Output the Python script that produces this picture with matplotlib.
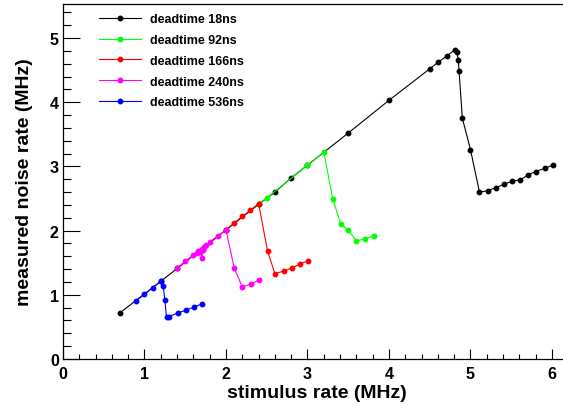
import matplotlib
matplotlib.use("Agg")
import matplotlib.pyplot as plt
from matplotlib.ticker import MultipleLocator

plt.rcParams["font.family"] = ["Liberation Sans", "DejaVu Sans"]
plt.rcParams["font.weight"] = "bold"

# deadtime 18ns
x18 = [0.7, 1.2, 1.4, 2.0, 2.4, 2.6, 2.8, 3.0, 3.5, 4.0, 4.5, 4.6, 4.71, 4.81, 4.83,
       4.85, 4.86, 4.90, 5.0, 5.11, 5.21, 5.31, 5.41, 5.51, 5.61, 5.71, 5.80, 5.91, 6.01]
y18 = [0.72, 1.21, 1.41, 2.01, 2.41, 2.60, 2.82, 3.02, 3.52, 4.03, 4.52, 4.62, 4.72, 4.82, 4.79,
       4.66, 4.48, 3.75, 3.26, 2.60, 2.62, 2.67, 2.72, 2.77, 2.79, 2.87, 2.92, 2.97, 3.02]

# deadtime 92ns
x92 = [2.4, 2.5, 3.0, 3.2, 3.31, 3.41, 3.50, 3.60, 3.71, 3.81]
y92 = [2.42, 2.51, 3.02, 3.22, 2.49, 2.10, 2.01, 1.84, 1.87, 1.92]

# deadtime 166ns
x166 = [2.0, 2.1, 2.2, 2.3, 2.4, 2.51, 2.60, 2.71, 2.81, 2.91, 3.01]
y166 = [2.01, 2.12, 2.22, 2.32, 2.42, 1.68, 1.33, 1.37, 1.42, 1.48, 1.53]

# deadtime 240ns
x240 = [1.4, 1.5, 1.6, 1.64, 1.66, 1.68, 1.70, 1.70, 1.72, 1.73, 1.75, 1.8, 1.9, 2.0,
        2.1, 2.2, 2.31, 2.4]
y240 = [1.42, 1.52, 1.62, 1.65, 1.68, 1.66, 1.72, 1.58, 1.70, 1.75, 1.77, 1.82, 1.92, 2.01,
        1.42, 1.12, 1.17, 1.23]

# deadtime 536ns
x536 = [0.9, 1.0, 1.1, 1.2, 1.23, 1.25, 1.27, 1.30, 1.41, 1.51, 1.61, 1.71]
y536 = [0.91, 1.01, 1.11, 1.21, 1.13, 0.92, 0.65, 0.66, 0.72, 0.76, 0.81, 0.86]

series = [
    (x18, y18, "black", "deadtime 18ns"),
    (x92, y92, "#00ff00", "deadtime 92ns"),
    (x166, y166, "red", "deadtime 166ns"),
    (x240, y240, "magenta", "deadtime 240ns"),
    (x536, y536, "blue", "deadtime 536ns"),
]

fig = plt.figure(figsize=(5.63, 4.06), dpi=100)
ax = fig.add_axes([63 / 563, 46 / 406, 500 / 563, 355 / 406])

for xs, ys, c, lab in series:
    ax.plot(xs, ys, "-o", color=c, lw=0.8, ms=3.2, mec=c, label=lab)

ax.set_xlim(0, 6.135)
ax.set_ylim(0, 5.53)
ax.xaxis.set_major_locator(MultipleLocator(1))
ax.xaxis.set_minor_locator(MultipleLocator(0.2))
ax.yaxis.set_major_locator(MultipleLocator(1))
ax.yaxis.set_minor_locator(MultipleLocator(0.2))

ax.tick_params(axis="x", which="major", direction="in", length=7, width=0.8, pad=5, labelsize=11.5)
ax.tick_params(axis="x", which="minor", direction="in", length=3.5, width=0.8)
ax.tick_params(axis="y", which="major", direction="in", length=12, width=0.8, pad=3, labelsize=11.5)
ax.tick_params(axis="y", which="minor", direction="in", length=6, width=0.8)
for lbl in ax.get_xticklabels() + ax.get_yticklabels():
    lbl.set_fontweight("bold")

ax.spines["right"].set_visible(False)
for s in ["left", "bottom", "top"]:
    ax.spines[s].set_linewidth(0.9)

ax.set_xlabel("stimulus rate (MHz)", fontsize=14, fontweight="bold", va="center")
ax.set_ylabel("measured noise rate (MHz)", fontsize=14, fontweight="bold")
ax.xaxis.set_label_coords(0.508, -0.095)
ax.yaxis.set_label_coords(-0.06, 0.5)

ax.legend(loc="upper left", bbox_to_anchor=(99 / 563, 392 / 406),
          bbox_transform=fig.transFigure, frameon=False,
          handlelength=3.36, handletextpad=0.72, labelspacing=0.71,
          borderpad=0, borderaxespad=0, numpoints=1,
          prop={"weight": "bold", "size": 9})

fig.savefig("out.png", dpi=100)
